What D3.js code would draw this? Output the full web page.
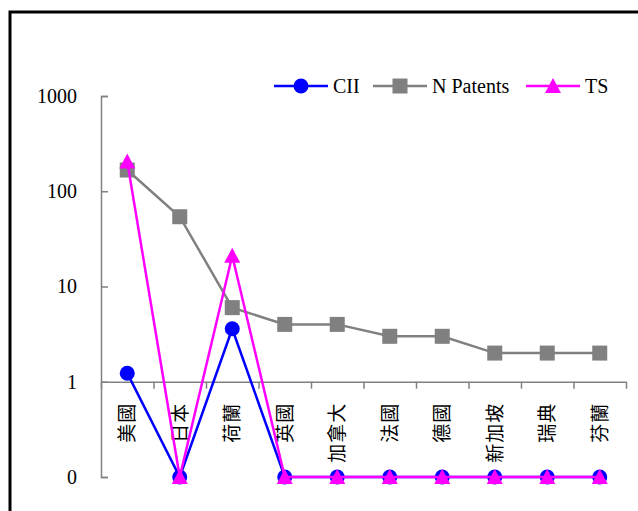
<!DOCTYPE html>
<html>
<head>
<meta charset="utf-8">
<script src="https://cdn.jsdelivr.net/npm/d3@7"></script>
<style>
  body { margin: 0; background: #fff; }
  svg { display: block; }
  .num { font-family: "Liberation Serif", "Times New Roman", serif; font-size: 20px; fill: #000; }
  .cat { font-family: "Noto Sans CJK TC", sans-serif; font-size: 19px; letter-spacing: 1px; fill: #000; }
</style>
</head>
<body>
<div id="chart"></div>
<script>
const categories = ["美國", "日本", "荷蘭", "英國", "加拿大", "法國", "德國", "新加坡", "瑞典", "芬蘭"];
const cii = [1.23, 0, 3.6, 0, 0, 0, 0, 0, 0, 0];
const nPatents = [167, 54, 6, 4, 4, 3, 3, 2, 2, 2];
const ts = [205, 0, 21, 0, 0, 0, 0, 0, 0, 0];
const yTicks = [0, 1, 10, 100, 1000];

;(function () {
const width = 638, height = 511;
const plot = { left: 101, right: 626, top: 96, bottom: 477 };

const svg = d3.select("#chart").append("svg")
    .attr("width", width)
    .attr("height", height);

// outer frame (only top and left edges visible)
svg.append("rect")
    .attr("x", 10).attr("y", 12)
    .attr("width", 700).attr("height", 600)
    .attr("fill", "none").attr("stroke", "#000").attr("stroke-width", 3);

// zero sits one decade below 1 on the log axis
const zeroAt = 0.1;
const y = d3.scaleLog().domain([zeroAt, 1000]).range([plot.bottom, plot.top]);
const yv = v => y(v === 0 ? zeroAt : v);

const x = d3.scaleBand().domain(categories).range([plot.left, plot.right]).padding(0);
const cx = c => x(c) + x.bandwidth() / 2;
const xEdges = d3.scaleLinear().domain([0, categories.length]).range([plot.left, plot.right]);

// y axis
const yAxis = d3.axisLeft(y)
    .tickValues(yTicks.map(v => v === 0 ? zeroAt : v))
    .tickFormat(v => v === zeroAt ? "0" : d3.format("d")(v))
    .tickSize(-7)
    .tickPadding(24);
const gy = svg.append("g").attr("transform", "translate(" + plot.left + ",0)").call(yAxis);
gy.attr("font-family", null).attr("font-size", null);
gy.select(".domain").attr("stroke", "#808080").attr("stroke-width", 1.5);
gy.selectAll(".tick line").attr("stroke", "#808080").attr("stroke-width", 1.5);
gy.selectAll(".tick text").attr("class", "num").attr("fill", "#000").attr("dy", "0.32em");

// x axis at value 1
const xAxis = d3.axisBottom(xEdges)
    .tickValues(d3.range(categories.length + 1))
    .tickFormat("")
    .tickSize(7)
    .tickSizeOuter(0);
const gx = svg.append("g").attr("transform", "translate(0," + y(1) + ")").call(xAxis);
gx.select(".domain").attr("stroke", "#808080").attr("stroke-width", 1.5);
gx.selectAll(".tick line").attr("stroke", "#808080").attr("stroke-width", 1.5);

// category labels, rotated
svg.selectAll(".cat")
    .data(categories)
    .enter()
    .append("text")
    .attr("class", "cat")
    .attr("text-anchor", "end")
    .attr("transform", d => "translate(" + (cx(d) + 7) + "," + (y(1) + 21) + ") rotate(-90)")
    .text(d => d);

const series = [
    { name: "CII", values: cii, color: "#0000FF", shape: "circle" },
    { name: "N Patents", values: nPatents, color: "#808080", shape: "square" },
    { name: "TS", values: ts, color: "#FF00FF", shape: "triangle" }
];

function marker(g, shape, color) {
    if (shape === "circle") {
        g.append("circle").attr("r", 7.5).attr("fill", color);
    } else if (shape === "square") {
        g.append("rect").attr("x", -7.5).attr("y", -7.5).attr("width", 15).attr("height", 15).attr("fill", color);
    } else {
        g.append("path").attr("d", "M0,-8L8,7L-8,7Z").attr("fill", color);
    }
}

const line = d3.line()
    .x((d, i) => cx(categories[i]))
    .y(d => yv(d));

series.forEach(s => {
    svg.append("path")
        .attr("d", line(s.values))
        .attr("fill", "none")
        .attr("stroke", s.color)
        .attr("stroke-width", 2.5);
    s.values.forEach((v, i) => {
        const g = svg.append("g").attr("transform", "translate(" + cx(categories[i]) + "," + yv(v) + ")");
        marker(g, s.shape, s.color);
    });
});

// legend
const legendX = [274, 373, 526];
series.forEach((s, i) => {
    const g = svg.append("g").attr("transform", "translate(" + legendX[i] + ",86)");
    g.append("line").attr("x1", 0).attr("x2", 54).attr("y1", 0).attr("y2", 0)
        .attr("stroke", s.color).attr("stroke-width", 2.5);
    const m = g.append("g").attr("transform", "translate(27,0)");
    marker(m, s.shape, s.color);
    g.append("text").attr("class", "num").attr("x", 59).attr("y", 0).attr("dy", "0.35em").text(s.name);
});
})()
</script>
</body>
</html>
